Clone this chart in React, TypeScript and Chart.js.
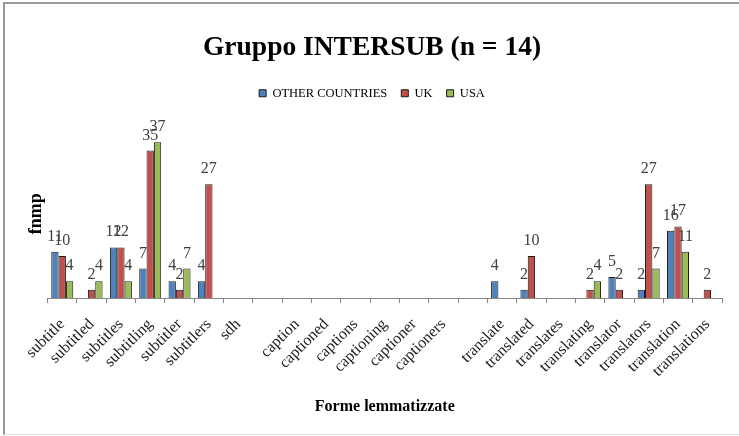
import React, { useEffect, useRef } from "react";
import { Chart, registerables } from "chart.js";

Chart.register(...registerables);

const categories = [
  "subtitle", "subtitled", "subtitles", "subtitling", "subtitler", "subtitlers", "sdh", "",
  "caption", "captioned", "captions", "captioning", "captioner", "captioners", "",
  "translate", "translated", "translates", "translating", "translator", "translators", "translation", "translations",
];

const otherCountries = [11, 0, 12, 7, 4, 4, 0, 0, 0, 0, 0, 0, 0, 0, 0, 4, 2, 0, 0, 5, 2, 16, 0];
const uk = [10, 2, 12, 35, 2, 27, 0, 0, 0, 0, 0, 0, 0, 0, 0, 0, 10, 0, 2, 2, 27, 17, 2];
const usa = [4, 4, 4, 37, 7, 0, 0, 0, 0, 0, 0, 0, 0, 0, 0, 0, 0, 0, 4, 0, 7, 11, 0];

const seriesNames = ["OTHER COUNTRIES", "UK", "USA"];
const seriesColors = ["#4F81BD", "#C0504D", "#9BBB59"];

const SERIF = "'Liberation Serif', 'DejaVu Serif', serif";

const valueLabels = {
  id: "valueLabels",
  afterDatasetsDraw(chart: any) {
    const ctx = chart.ctx;
    ctx.save();
    ctx.font = `16px ${SERIF}`;
    ctx.fillStyle = "#404040";
    ctx.textAlign = "center";
    ctx.textBaseline = "alphabetic";
    chart.data.datasets.forEach((ds: any, i: number) => {
      const meta = chart.getDatasetMeta(i);
      meta.data.forEach((el: any, j: number) => {
        const v = ds.data[j];
        if (v > 0) ctx.fillText(String(v), el.x, el.y - 11);
      });
    });
    ctx.restore();
  },
};

const legendMargin = {
  id: "legendMargin",
  beforeInit(chart: any) {
    const legend = chart.legend;
    if (!legend) return;
    const fit = legend.fit;
    legend.fit = function () {
      fit.bind(legend)();
      this.height += 20;
    };
  },
};

export default function App() {
  const ref = useRef<HTMLCanvasElement | null>(null);
  useEffect(() => {
    document.body.style.margin = "0";
    const chart = new Chart(ref.current as HTMLCanvasElement, {
      type: "bar",
      data: {
        labels: categories,
        datasets: [otherCountries, uk, usa].map((d, i) => ({
          label: seriesNames[i],
          data: d,
          backgroundColor: seriesColors[i],
          borderColor: "#1a1a1a",
          borderWidth: 1,
          categoryPercentage: 0.75,
          barPercentage: 1,
        })),
      },
      options: {
        animation: false,
        responsive: false,
        maintainAspectRatio: false,
        layout: { padding: { left: 22, right: 17, top: 21, bottom: 16 } },
        plugins: {
          title: {
            display: true,
            text: "Gruppo INTERSUB (n = 14)",
            color: "#000",
            font: { family: SERIF, size: 27.5, weight: "bold" },
            padding: { top: 10, bottom: 9 },
          },
          legend: {
            display: true,
            position: "top",
            labels: {
              color: "#000",
              font: { family: SERIF, size: 12.5 },
              boxWidth: 7,
              boxHeight: 7,
              padding: 14,
            },
          },
          tooltip: { enabled: false },
        },
        scales: {
          x: {
            grid: {
              display: true,
              drawOnChartArea: false,
              drawTicks: true,
              tickLength: 5,
              color: "#868686",
              offset: true,
            },
            border: { display: true, color: "#868686" },
            ticks: {
              autoSkip: false,
              maxRotation: 45,
              minRotation: 45,
              color: "#1a1a1a",
              padding: 12,
              font: { family: SERIF, size: 16 },
            },
            title: {
              display: true,
              text: "Forme lemmatizzate",
              color: "#000",
              font: { family: SERIF, size: 16, weight: "bold" },
              padding: { top: 4, bottom: 4 },
            },
          },
          y: {
            min: 0,
            max: 40,
            grid: { display: false, drawTicks: false },
            border: { display: false },
            ticks: { display: false },
            title: {
              display: true,
              text: "fnmp",
              color: "#000",
              font: { family: SERIF, size: 18, weight: "bold" },
              padding: { top: 4, bottom: 0 },
            },
          },
        },
      },
      plugins: [valueLabels, legendMargin],
    });
    return () => chart.destroy();
  }, []);

  return (
    <div style={{ position: "fixed", left: 0, top: 0, width: 739, height: 436, background: "#fff", overflow: "hidden" }}>
      <canvas ref={ref} width={739} height={436} style={{ position: "absolute", left: 0, top: 0 }} />
      <div
        style={{
          position: "absolute",
          left: 3,
          top: 2,
          width: 760,
          height: 430,
          borderTop: "2px solid #9a9a9a",
          borderLeft: "2px solid #9a9a9a",
          borderBottom: "1px solid #e2e2e2",
          pointerEvents: "none",
        }}
      />
    </div>
  );
}
